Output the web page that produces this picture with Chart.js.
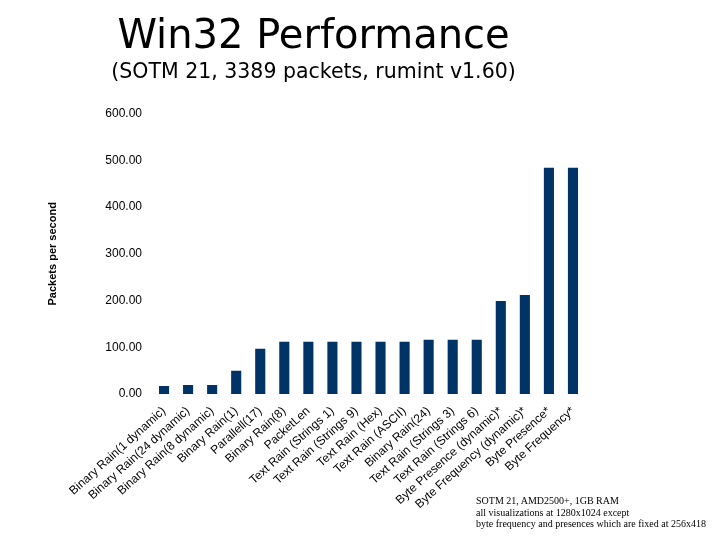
<!DOCTYPE html>
<html>
<head>
<meta charset="utf-8">
<title>Win32 Performance</title>
<script src="https://cdn.jsdelivr.net/npm/chart.js@4.4.1/dist/chart.umd.min.js"></script>
<style>
    html, body { margin: 0; padding: 0; background: #ffffff; }
    #wrap { position: relative; width: 720px; height: 540px; }
    #note {
        position: absolute;
        left: 476px;
        top: 495px;
        font-family: "Liberation Serif", "Times New Roman", serif;
        font-size: 10px;
        line-height: 11.5px;
        color: #000000;
        white-space: nowrap;
    }
</style>
</head>
<body>
<div id="wrap">
    <canvas id="perfChart" width="720" height="540"></canvas>
    <div id="note">
        SOTM 21, AMD2500+, 1GB RAM<br>
        all visualizations at 1280x1024 except<br>
        byte frequency and presences which are fixed at 256x418
    </div>
</div>
<script>
const categories = [
    "Binary Rain(1 dynamic)",
    "Binary Rain(24 dynamic)",
    "Binary Rain(8 dynamic)",
    "Binary Rain(1)",
    "Parallell(17)",
    "Binary Rain(8)",
    "PacketLen",
    "Text Rain (Strings 1)",
    "Text Rain (Strings 9)",
    "Text Rain (Hex)",
    "Text Rain (ASCII)",
    "Binary Rain(24)",
    "Text Rain (Strings 3)",
    "Text Rain (Strings 6)",
    "Byte Presence (dynamic)*",
    "Byte Frequency (dynamic)*",
    "Byte Presence*",
    "Byte Frequency*"
];

const packetsPerSecond = [17, 19, 19, 50, 97, 112, 112, 112, 112, 112, 112, 116, 116, 116, 199, 212, 484, 484];

const yTicks = [0, 100, 200, 300, 400, 500, 600];

const barColor = "#003366";
const labelFont = "'Liberation Sans', Arial, sans-serif";

const ctx = document.getElementById("perfChart").getContext("2d");

new Chart(ctx, {
    type: "bar",
    data: {
        labels: categories,
        datasets: [
            {
                label: "Packets per second",
                data: packetsPerSecond,
                backgroundColor: barColor,
                borderWidth: 0,
                barPercentage: 0.42,
                categoryPercentage: 1.0,
            },
        ],
    },
    options: {
        responsive: false,
        animation: false,
        layout: {
            padding: { top: 16, left: 42, right: 135, bottom: 0 },
        },
        plugins: {
            legend: { display: false },
            tooltip: { enabled: false },
            title: {
                display: true,
                text: "Win32 Performance",
                color: "#000000",
                font: { family: "'DejaVu Sans', Verdana, sans-serif", size: 40, weight: "normal", lineHeight: 1.1 },
                padding: { top: 0, bottom: 0 },
            },
            subtitle: {
                display: true,
                text: "(SOTM 21, 3389 packets, rumint v1.60)",
                color: "#000000",
                font: { family: "'DejaVu Sans', Verdana, sans-serif", size: 20.5, weight: "normal", lineHeight: 1.2 },
                padding: { top: 0, bottom: 29 },
            },
        },
        scales: {
            x: {
                grid: { display: false, drawTicks: false },
                border: { display: false },
                ticks: {
                    color: "#000000",
                    autoSkip: false,
                    minRotation: 42,
                    maxRotation: 42,
                    padding: 10,
                    font: { family: labelFont, size: 12 },
                },
                afterFit: (scale) => {
                    scale.height = 146;
                },
            },
            y: {
                min: 0,
                max: 600,
                afterBuildTicks: (scale) => {
                    scale.ticks = yTicks.map((v) => ({ value: v }));
                },
                grid: { display: false, drawTicks: false },
                border: { display: false },
                ticks: {
                    color: "#000000",
                    padding: 10,
                    font: { family: labelFont, size: 12 },
                    callback: (value) => Number(value).toFixed(2),
                },
                title: {
                    display: true,
                    text: "Packets per second",
                    color: "#000000",
                    font: { family: labelFont, size: 11, weight: "bold" },
                    padding: 4,
                },
                afterFit: (scale) => {
                    scale.width = 110;
                },
            },
        },
    },
});
</script>
</body>
</html>
